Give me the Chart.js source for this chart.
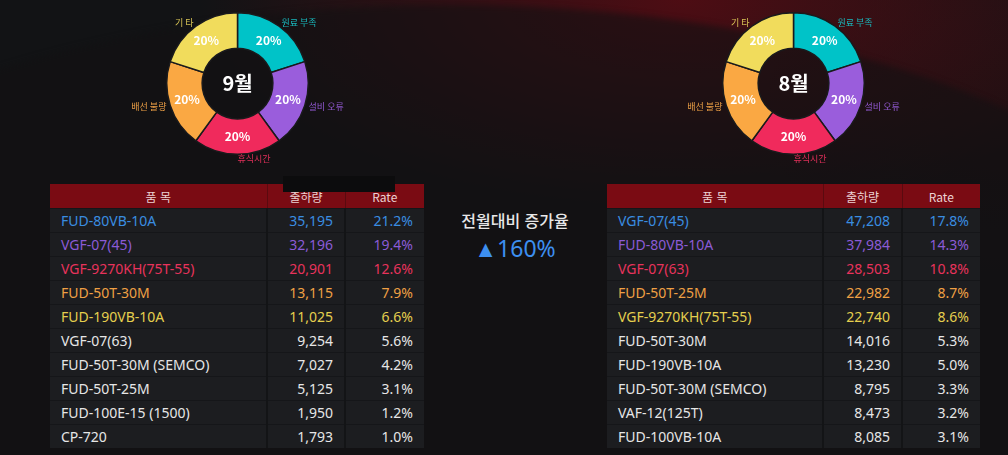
<!DOCTYPE html>
<html lang="ko">
<head>
<meta charset="utf-8">
<title>월별 출하 현황</title>
<script src="https://cdn.jsdelivr.net/npm/chart.js@4.4.1/dist/chart.umd.min.js"></script>
<style>
  html, body { margin: 0; padding: 0; background: #121315; }
  #wrap {
    position: relative; width: 1008px; height: 455px; overflow: hidden;
    background: #121315;
    font-family: 'Noto Sans', 'Noto Sans CJK KR', sans-serif;
  }
  .bg-glow {
    position: absolute; left: 0; top: 0; width: 1008px; height: 455px;
    background:
      radial-gradient(ellipse 480px 210px at 680px 0px, rgba(92, 11, 19, 0.8), rgba(92, 11, 19, 0) 100%),
      radial-gradient(ellipse 260px 180px at 1008px 110px, rgba(48, 10, 13, 0.35), rgba(48, 10, 13, 0) 100%);
  }
  .bg-wave {
    position: absolute; left: -350px; top: 5px; width: 1600px; height: 740px;
    border-radius: 50%;
    background: rgba(18, 17, 19, 0.6);
    filter: blur(3px);
  }
  canvas { position: absolute; top: 0; }
  #sepChart { left: 122px; }
  #augChart { left: 678px; }

  table.ship {
    position: absolute; top: 184px;
    border-collapse: collapse; table-layout: fixed;
    background: #1c1d20;
    font-size: 14px;
  }
  #sepTable { left: 50px; width: 374px; }
  #augTable { left: 607px; width: 373px; }
  table.ship th {
    height: 24px; padding: 0; background: #7a0b13; color: #ecd3d3;
    font-family: 'Noto Sans CJK KR', sans-serif;
    font-weight: normal; font-size: 12px; text-align: center;
    border-left: 1px solid #5a0a0f;
  }
  table.ship th:first-child { border-left: none; }
  table.ship td {
    height: 23px; padding: 0 11px; white-space: nowrap;
    border-top: 1px solid #151619;
    border-left: 2px solid #131416;
  }
  table.ship td:first-child { border-left: none; text-align: left; }
  table.ship td.num { text-align: right; }
  .mask { position: absolute; left: 283px; top: 176px; width: 112px; height: 16px; background: #0c0c0d; }

  .compare {
    position: absolute; left: 430px; width: 170px; text-align: center;
    font-family: 'Noto Sans CJK KR', sans-serif; line-height: 1;
  }
  .compare.title { top: 212px; color: #e8e8e8; font-size: 16px; font-weight: 500; }
  .compare.rate { top: 237px; color: #3d8ff0; font-size: 23px; font-family: 'Noto Sans', sans-serif; }
</style>
</head>
<body>
<div id="wrap">
  <div class="bg-glow"></div>
  <div class="bg-wave"></div>

  <canvas id="sepChart" width="231" height="167"></canvas>
  <canvas id="augChart" width="231" height="167"></canvas>

  <table class="ship" id="sepTable"></table>
  <div class="mask"></div>
  <table class="ship" id="augTable"></table>

  <div class="compare title">전월대비 증가율</div>
  <div class="compare rate" id="growth"></div>
</div>

<script>
  // 비가동 사유 (도넛)
  var causeLabels = ['원료 부족', '설비 오류', '휴식시간', '배선 불량', '기 타'];
  var sepCause = [20, 20, 20, 20, 20];
  var augCause = [20, 20, 20, 20, 20];
  var causeColors = ['#00c3c8', '#9a5ddc', '#f02a5c', '#faa843', '#f1dc5c'];
  var causeTextColors = ['#19b8bd', '#9158d0', '#e0305a', '#eda046', '#d9c556'];

  // 품목별 출하량 (9월)
  var sepItems = ['FUD-80VB-10A', 'VGF-07(45)', 'VGF-9270KH(75T-55)', 'FUD-50T-30M', 'FUD-190VB-10A',
    'VGF-07(63)', 'FUD-50T-30M (SEMCO)', 'FUD-50T-25M', 'FUD-100E-15 (1500)', 'CP-720'];
  var sepQty = [35195, 32196, 20901, 13115, 11025, 9254, 7027, 5125, 1950, 1793];
  var sepRate = [21.2, 19.4, 12.6, 7.9, 6.6, 5.6, 4.2, 3.1, 1.2, 1.0];

  // 품목별 출하량 (8월)
  var augItems = ['VGF-07(45)', 'FUD-80VB-10A', 'VGF-07(63)', 'FUD-50T-25M', 'VGF-9270KH(75T-55)',
    'FUD-50T-30M', 'FUD-190VB-10A', 'FUD-50T-30M (SEMCO)', 'VAF-12(125T)', 'FUD-100VB-10A'];
  var augQty = [47208, 37984, 28503, 22982, 22740, 14016, 13230, 8795, 8473, 8085];
  var augRate = [17.8, 14.3, 10.8, 8.7, 8.6, 5.3, 5.0, 3.3, 3.2, 3.1];

  var tableHeaders = ['품 목', '출하량', 'Rate'];
  var rankColors = ['#3a8de0', '#8b5bd6', '#e8335c', '#efa044', '#e5cf4e'];
  var plainColor = '#e6e6e6';
  var growthRate = 160;

  // 도넛 위 퍼센트, 바깥 라벨, 가운데 월 표시
  var ringText = {
    id: 'ringText',
    afterDatasetsDraw: function (chart, args, opts) {
      var ctx = chart.ctx;
      var meta = chart.getDatasetMeta(0);
      var values = chart.data.datasets[0].data;
      var total = values.reduce(function (a, b) { return a + b; }, 0);
      var cx = 0, cy = 0;

      ctx.save();
      meta.data.forEach(function (arc, i) {
        var p = arc.getProps(['x', 'y', 'startAngle', 'endAngle', 'innerRadius', 'outerRadius'], true);
        var mid = (p.startAngle + p.endAngle) / 2;
        var cos = Math.cos(mid), sin = Math.sin(mid);
        var rm = (p.innerRadius + p.outerRadius) / 2;
        cx = p.x; cy = p.y;

        ctx.font = 'bold 12px "Noto Sans CJK KR", "Noto Sans", sans-serif';
        ctx.fillStyle = '#ffffff';
        ctx.textAlign = 'center';
        ctx.textBaseline = 'middle';
        ctx.fillText(Math.round(values[i] / total * 100) + '%', p.x + cos * rm, p.y + sin * rm);

        var ro = p.outerRadius + 4;
        ctx.font = '9px "Noto Sans CJK KR", sans-serif';
        ctx.fillStyle = causeTextColors[i];
        ctx.textAlign = cos > -0.01 ? 'left' : 'right';
        ctx.fillText(chart.data.labels[i], p.x + cos * ro, p.y + sin * ro);
      });

      ctx.font = 'bold 20px "Noto Sans CJK KR", sans-serif';
      ctx.fillStyle = '#ffffff';
      ctx.textAlign = 'center';
      ctx.textBaseline = 'middle';
      ctx.fillText(opts.title, cx, cy);
      ctx.restore();
    }
  };

  function drawRing(id, values, title) {
    new Chart(document.getElementById(id), {
      type: 'doughnut',
      data: {
        labels: causeLabels,
        datasets: [{
          data: values,
          backgroundColor: causeColors,
          borderColor: '#1a1a1c',
          borderWidth: 1.5,
          hoverOffset: 0
        }]
      },
      options: {
        responsive: false,
        animation: false,
        cutout: '50%',
        layout: { padding: { top: 12, bottom: 12, left: 44, right: 44 } },
        plugins: {
          legend: { display: false },
          tooltip: { enabled: false },
          ringText: { title: title }
        }
      },
      plugins: [ringText]
    });
  }

  function fillTable(id, items, qty, rate, widths) {
    var table = document.getElementById(id);
    var html = '<colgroup>' + widths.map(function (w) { return '<col style="width:' + w + 'px">'; }).join('') + '</colgroup>';
    html += '<tr>' + tableHeaders.map(function (h) { return '<th>' + h + '</th>'; }).join('') + '</tr>';
    items.forEach(function (name, i) {
      var color = i < rankColors.length ? rankColors[i] : plainColor;
      html += '<tr style="color:' + color + '">' +
        '<td>' + name + '</td>' +
        '<td class="num">' + qty[i].toLocaleString('en-US') + '</td>' +
        '<td class="num">' + rate[i].toFixed(1) + '%</td>' +
        '</tr>';
    });
    table.innerHTML = html;
  }

  drawRing('sepChart', sepCause, '9월');
  drawRing('augChart', augCause, '8월');
  fillTable('sepTable', sepItems, sepQty, sepRate, [217, 78, 79]);
  fillTable('augTable', augItems, augQty, augRate, [216, 79, 78]);
  document.getElementById('growth').textContent = '▲' + growthRate + '%';
</script>
</body>
</html>
